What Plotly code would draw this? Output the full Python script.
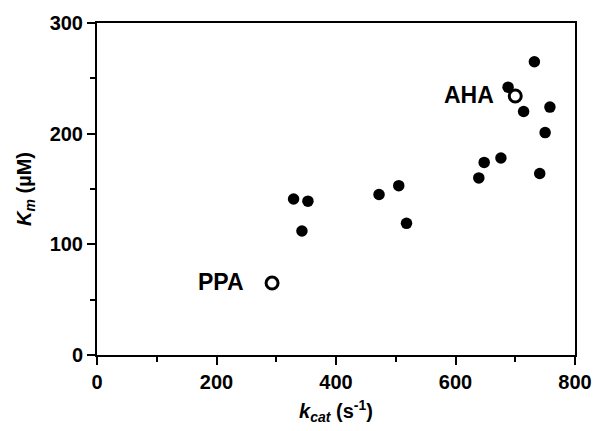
import plotly.graph_objects as go

kcat_filled = [329, 353, 343, 472, 505, 518, 639, 648, 676, 688, 714, 732, 741, 750, 758]
km_filled = [141, 139, 112, 145, 153, 119, 160, 174, 178, 242, 220, 265, 164, 201, 224]
open_labels = ["PPA", "AHA"]
kcat_open = [293, 700]
km_open = [65, 234]
label_shift = [-26, -19]

FONT = "Liberation Sans, Arial, sans-serif"

fig = go.Figure()
fig.add_trace(go.Scatter(x=kcat_filled, y=km_filled, mode="markers",
                         marker=dict(color="black", size=11.5, line=dict(width=0)),
                         showlegend=False, cliponaxis=False))
fig.add_trace(go.Scatter(x=kcat_open, y=km_open, mode="markers",
                         marker=dict(color="white", size=12, line=dict(color="black", width=3)),
                         showlegend=False, cliponaxis=False))
for lab, xv, yv, sh in zip(open_labels, kcat_open, km_open, label_shift):
    fig.add_annotation(x=xv, y=yv, text=lab, showarrow=False, xanchor="right", yanchor="middle",
                       xshift=sh, yshift=1,
                       font=dict(family=FONT, size=23, color="black", weight="bold"))

axis_common = dict(
    showgrid=False, zeroline=False, showline=True, linecolor="black", linewidth=2,
    mirror=True, ticks="outside", ticklen=8, tickwidth=2, tickcolor="black",
    tickfont=dict(family=FONT, size=20, color="black", weight="bold"),
)
fig.update_xaxes(range=[0, 800], tickvals=[0, 200, 400, 600, 800],
                 minor=dict(tickvals=[100, 300, 500, 700], ticks="outside", ticklen=5, tickwidth=2, tickcolor="black"),
                 title=dict(text="<i>k</i><sub><i>cat</i></sub> (s<sup>-1</sup>)",
                            font=dict(family=FONT, size=20, color="black", weight="bold"), standoff=12),
                 **axis_common)
fig.update_yaxes(range=[0, 300], tickvals=[0, 100, 200, 300],
                 minor=dict(tickvals=[50, 150, 250], ticks="outside", ticklen=5, tickwidth=2, tickcolor="black"),
                 title=dict(text="<i>K</i><sub><i>m</i></sub> (µM)",
                            font=dict(family=FONT, size=20, color="black", weight="bold"), standoff=13),
                 **axis_common)
fig.update_layout(width=607, height=431, margin=dict(l=97, r=32, t=20, b=74),
                  plot_bgcolor="white", paper_bgcolor="white")
fig.write_html("out.html")
